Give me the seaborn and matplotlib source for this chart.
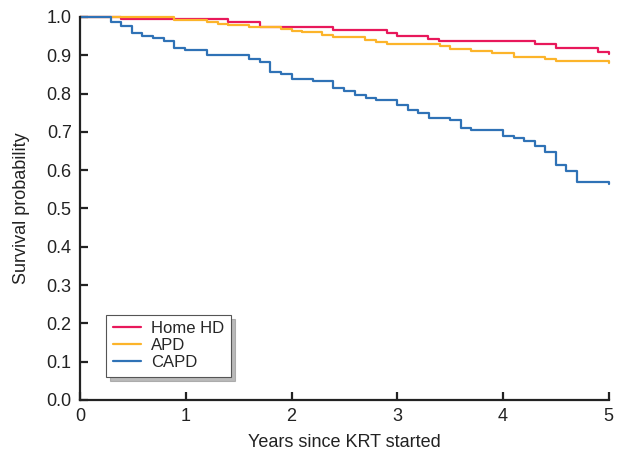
import matplotlib
matplotlib.use("Agg")
import matplotlib.pyplot as plt
import pandas as pd
import seaborn as sns

# --- Kaplan-Meier step data ---
home_hd_t = [0.0, 0.39, 1.40, 1.70, 2.39, 2.90, 3.00, 3.29, 3.39, 4.30, 4.50, 4.90, 5.0, 5.0]
home_hd_s = [1.000, 0.994, 0.986, 0.973, 0.966, 0.958, 0.951, 0.943, 0.936, 0.929, 0.919, 0.909, 0.909, 0.903]

apd_t = [0.0, 0.89, 1.20, 1.30, 1.40, 1.60, 1.90, 2.00, 2.10, 2.29, 2.39, 2.69, 2.80,
         2.90, 3.40, 3.50, 3.70, 3.90, 4.10, 4.40, 4.50, 5.0, 5.0]
apd_s = [1.000, 0.992, 0.986, 0.982, 0.978, 0.974, 0.968, 0.963, 0.960, 0.953, 0.948, 0.939, 0.934,
         0.930, 0.925, 0.916, 0.910, 0.907, 0.896, 0.891, 0.886, 0.886, 0.879]

capd_t = [0.0, 0.29, 0.39, 0.49, 0.59, 0.69, 0.79, 0.89, 0.99, 1.20, 1.60, 1.70, 1.80, 1.90,
          2.00, 2.20, 2.39, 2.50, 2.60, 2.70, 2.80, 3.00, 3.10, 3.20, 3.30, 3.50, 3.60, 3.70,
          4.00, 4.10, 4.20, 4.30, 4.40, 4.50, 4.60, 4.70, 5.0, 5.0]
capd_s = [1.000, 0.987, 0.976, 0.957, 0.951, 0.944, 0.938, 0.920, 0.913, 0.902, 0.889, 0.883, 0.857, 0.852,
          0.839, 0.833, 0.814, 0.808, 0.795, 0.789, 0.783, 0.769, 0.757, 0.750, 0.737, 0.731, 0.710, 0.705,
          0.689, 0.683, 0.676, 0.663, 0.648, 0.613, 0.599, 0.569, 0.569, 0.565]

groups = ["Home HD", "APD", "CAPD"]
colors = ["#E8185B", "#FCB42A", "#2F72B6"]

df = pd.concat([
    pd.DataFrame({"time": home_hd_t, "surv": home_hd_s, "group": "Home HD"}),
    pd.DataFrame({"time": apd_t, "surv": apd_s, "group": "APD"}),
    pd.DataFrame({"time": capd_t, "surv": capd_s, "group": "CAPD"}),
], ignore_index=True)

# --- Plot ---
sns.set_style("ticks")
plt.rcParams["font.family"] = ["Liberation Sans", "DejaVu Sans"]

fig = plt.figure(figsize=(6.17, 4.54), dpi=100)
ax = fig.add_axes([0.1297, 0.119, 0.857, 0.8436])

sns.lineplot(data=df, x="time", y="surv", hue="group", hue_order=groups,
             palette=colors, estimator=None, sort=False, drawstyle="steps-post",
             linewidth=1.6, ax=ax, clip_on=False)

ax.set_xlim(0, 5)
ax.set_ylim(0, 1.0)
ax.set_xticks(range(0, 6))
ax.set_yticks([i / 10 for i in range(11)])
ax.set_yticklabels([f"{i / 10:.1f}" for i in range(11)])
ax.set_xlabel("Years since KRT started", fontsize=13, color="#222222", labelpad=6)
ax.set_ylabel("Survival probability", fontsize=13, color="#222222", labelpad=12)
ax.tick_params(direction="in", length=6, width=1.6, labelsize=13, colors="#222222", pad=6)
for side in ["left", "bottom"]:
    ax.spines[side].set_linewidth(1.6)
    ax.spines[side].set_color("#222222")
sns.despine(ax=ax)

leg = ax.legend(loc="lower left", bbox_to_anchor=(0.049, 0.06), borderaxespad=0,
                frameon=True, fancybox=False, shadow={"color": "0.55", "alpha": 0.6, "ox": 3, "oy": -3},
                fontsize=12, handlelength=1.7, borderpad=0.4, labelspacing=0.12,
                handletextpad=0.6)
leg.get_frame().set_edgecolor("#555555")
leg.get_frame().set_linewidth(0.8)

plt.savefig("out.png", dpi=100)
